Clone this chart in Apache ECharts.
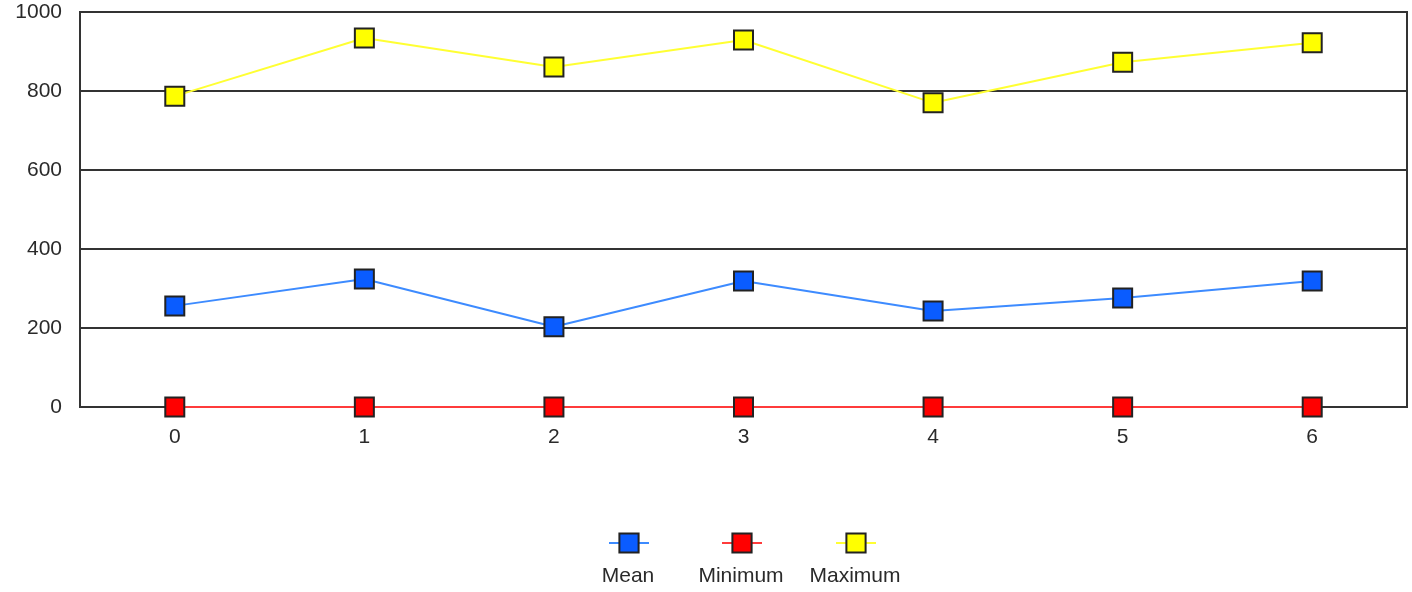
<!DOCTYPE html>
<html><head><meta charset="utf-8">
<script src="https://cdn.jsdelivr.net/npm/echarts@6/dist/echarts.min.js"></script>
<style>html,body{margin:0;padding:0;background:#fff}#c{width:1412px;height:592px}</style>
</head><body><div id="c"></div>
<script>
const categories = ['0','1','2','3','4','5','6'];
const meanValues = [256, 324, 203, 319, 243, 276, 319];
const minValues = [0, 0, 0, 0, 0, 0, 0];
const maxValues = [787, 934, 861, 929, 770, 873, 922];
const yTicks = [0, 200, 400, 600, 800, 1000];
const seriesNames = ['Mean', 'Minimum', 'Maximum'];

const font = 'Liberation Sans, Arial, sans-serif';
const chart = echarts.init(document.getElementById('c'), null, {renderer: 'canvas'});
function mk(name, data, fill, line) {
  return {
    name, type: 'line', data,
    symbol: 'rect', symbolSize: 19,
    itemStyle: {color: fill, borderColor: '#222', borderWidth: 2},
    lineStyle: {color: line, width: 2},
    emphasis: {disabled: true},
    animation: false
  };
}
const legendLefts = [608, 721, 835];
const legendTextX = [628, 741, 855];
chart.setOption({
  animation: false,
  grid: {left: 80, right: 5, top: 12, bottom: 185, show: true, borderColor: '#333', borderWidth: 2, backgroundColor: '#fff'},
  xAxis: {
    type: 'category', data: categories, boundaryGap: true,
    axisLine: {show: false}, axisTick: {show: false},
    axisLabel: {color: '#2a2a2a', fontFamily: font, fontSize: 21, margin: 20}
  },
  yAxis: {
    type: 'value', min: yTicks[0], max: yTicks[yTicks.length - 1], interval: 200,
    axisLine: {show: false}, axisTick: {show: false},
    splitLine: {lineStyle: {color: '#333', width: 2}},
    axisLabel: {color: '#2a2a2a', fontFamily: font, fontSize: 21, margin: 18, formatter: v => String(v)}
  },
  legend: seriesNames.map((n, i) => ({
    data: [n], left: legendLefts[i], top: 531, itemWidth: 40, itemHeight: 24,
    formatter: () => '', selectedMode: false, padding: 0
  })),
  graphic: seriesNames.map((n, i) => ({
    type: 'text', x: legendTextX[i], y: 566,
    style: {text: n, fill: '#2a2a2a', font: '21px ' + font, textAlign: 'center', textVerticalAlign: 'top'}
  })),
  series: [
    mk('Mean', meanValues, '#0a5cff', '#3d8bff'),
    mk('Minimum', minValues, '#ff0000', '#ff3b3b'),
    mk('Maximum', maxValues, '#ffff00', '#ffff33')
  ]
});
</script></body></html>
